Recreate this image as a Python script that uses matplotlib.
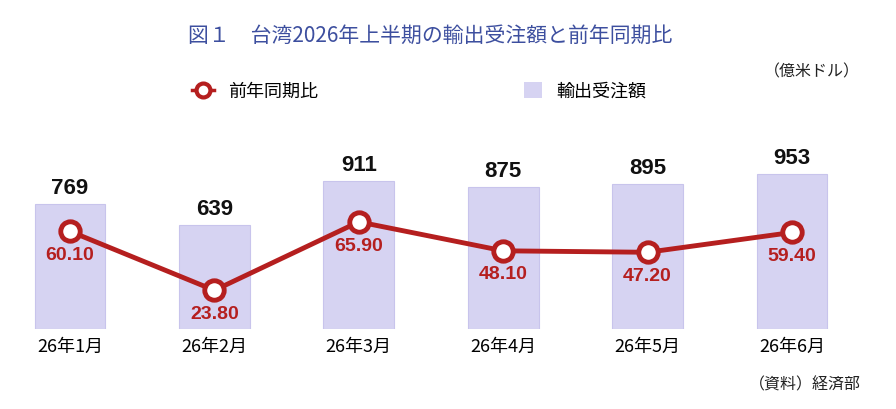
import matplotlib
matplotlib.use("Agg")
import matplotlib.pyplot as plt
from matplotlib.lines import Line2D
from matplotlib.patches import Patch

plt.rcParams["font.family"] = ["Noto Sans CJK JP", "DejaVu Sans"]

months = ["26年1月", "26年2月", "26年3月", "26年4月", "26年5月", "26年6月"]
orders = [769, 639, 911, 875, 895, 953]
yoy = [60.10, 23.80, 65.90, 48.10, 47.20, 59.40]

BAR = "#d6d3f2"
RED = "#b51f1f"
NUM = ["Liberation Sans", "DejaVu Sans"]
W, H = 896, 410

fig = plt.figure(figsize=(W / 100, H / 100), dpi=100)
# axes: left 5px, right 857px, bottom y=330, top y=100
ax = fig.add_axes([5 / W, (H - 330) / H, 852 / W, 230 / H])
x = range(len(months))
ax.bar(x, orders, width=0.49, color=BAR, edgecolor="#c8c4ec", linewidth=0.8)
ax.set_xlim(-0.45, 5.45)
ax.set_ylim(0, 1415)
for i, v in enumerate(orders):
    ax.text(i, v + 35, str(v), ha="center", va="bottom", fontsize=16,
            fontweight="bold", color="#111111", family=NUM)
ax.set_xticks(list(x))
ax.set_xticklabels(months, fontsize=13)
ax.tick_params(axis="x", length=0, pad=6)
ax.set_yticks([])
for s in ax.spines.values():
    s.set_visible(False)

ax2 = ax.twinx()
ax2.set_ylim(0, 141.5)
ax2.plot(list(x), yoy, color=RED, linewidth=3.5, marker="o", markersize=14,
         markerfacecolor="white", markeredgecolor=RED, markeredgewidth=3.5)
for i, v in enumerate(yoy):
    ax2.text(i, v - 9, f"{v:.2f}", ha="center", va="top", fontsize=14,
             fontweight="bold", color=RED, family=NUM)
ax2.set_yticks([])
for s in ax2.spines.values():
    s.set_visible(False)

fig.text(430 / W, 1 - 36 / H, "図１　台湾2026年上半期の輸出受注額と前年同期比",
         ha="center", va="center", fontsize=15, color="#3d4f9f")
fig.text(812 / W, 1 - 72 / H, "（億米ドル）", ha="center", va="center",
         fontsize=11.5, color="#222222")
fig.text(805 / W, 1 - 385 / H, "（資料）経済部", ha="center", va="center",
         fontsize=11.5, color="#222222")

handles = [Line2D([], [], color=RED, marker="o", markersize=10, linewidth=2.5,
                  markerfacecolor="white", markeredgewidth=3),
           Patch(facecolor=BAR)]
fig.legend(handles[:1], ["前年同期比"], loc="center", bbox_to_anchor=(255 / W, 1 - 92 / H),
           frameon=False, fontsize=13, handlelength=1.2)
fig.legend(handles[1:], ["輸出受注額"], loc="center", bbox_to_anchor=(585 / W, 1 - 92 / H),
           frameon=False, fontsize=13, handlelength=1.0, handleheight=1.0)

fig.savefig("out.png", dpi=100)
